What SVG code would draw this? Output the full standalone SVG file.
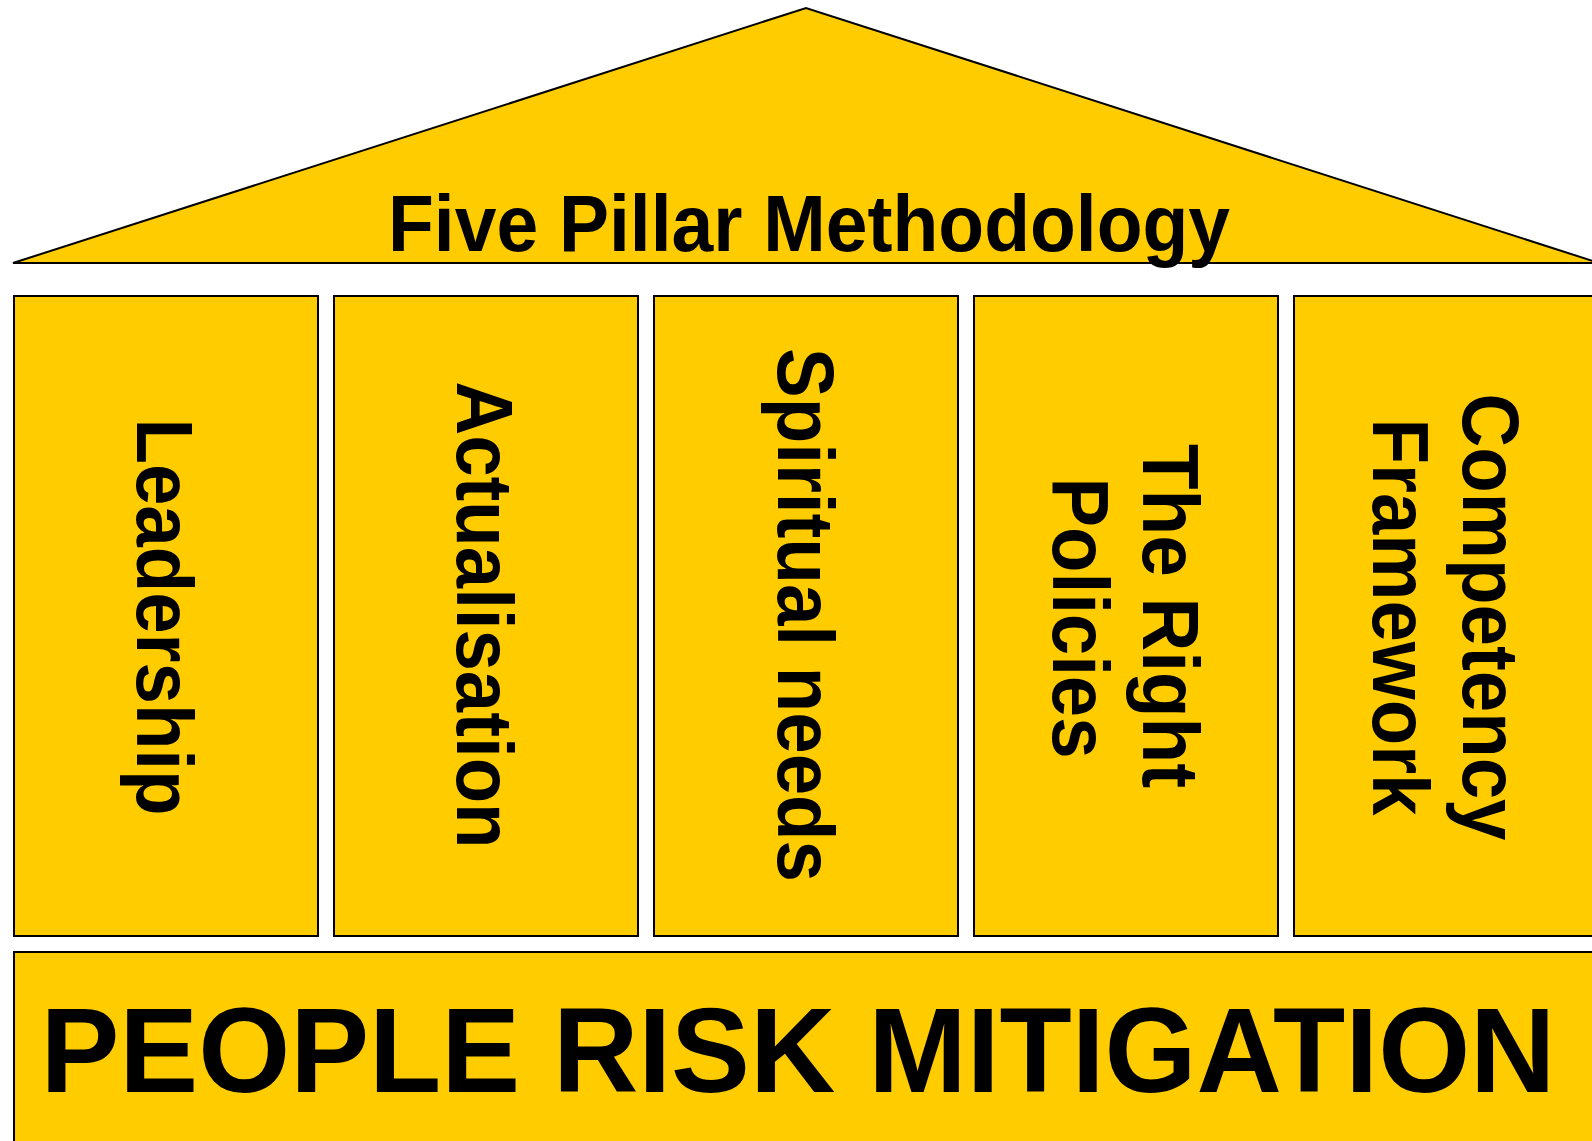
<svg xmlns="http://www.w3.org/2000/svg" width="1592" height="1141" viewBox="0 0 1592 1141">
<style>
.shape{fill:#FFCC00;stroke:#000;stroke-width:2}
.t{font-family:"Liberation Sans",Arial,Helvetica,sans-serif;font-weight:bold;fill:#000;text-anchor:middle}
.p{font-size:80px}
</style>
<rect width="1592" height="1141" fill="#fff"/>
<g id="roof">
<polygon class="shape" points="13,263 806,8 1599,263"/>
<text class="t p" x="809" y="251" textLength="842" lengthAdjust="spacingAndGlyphs">Five Pillar Methodology</text>
</g>
<g id="pillar1">
<rect class="shape" x="14" y="296" width="304" height="640"/>
<text class="t p" transform="translate(166,617) rotate(90)" x="0" y="29" textLength="397" lengthAdjust="spacingAndGlyphs">Leadership</text>
</g>
<g id="pillar2">
<rect class="shape" x="334" y="296" width="304" height="640"/>
<text class="t p" transform="translate(486,615) rotate(90)" x="0" y="29" textLength="467" lengthAdjust="spacingAndGlyphs">Actualisation</text>
</g>
<g id="pillar3">
<rect class="shape" x="654" y="296" width="304" height="640"/>
<text class="t p" transform="translate(806,615) rotate(90)" x="0" y="28" textLength="534" lengthAdjust="spacingAndGlyphs">Spiritual needs</text>
</g>
<g id="pillar4">
<rect class="shape" x="974" y="296" width="304" height="640"/>
<text class="t p" transform="translate(1126,616) rotate(90)" x="0" y="-17" textLength="344" lengthAdjust="spacingAndGlyphs">The Right</text>
<text class="t p" transform="translate(1126,618) rotate(90)" x="0" y="73" textLength="281" lengthAdjust="spacingAndGlyphs">Policies</text>
</g>
<g id="pillar5">
<rect class="shape" x="1294" y="296" width="304" height="640"/>
<text class="t p" transform="translate(1446,617) rotate(90)" x="0" y="-17" textLength="447" lengthAdjust="spacingAndGlyphs">Competency</text>
<text class="t p" transform="translate(1446,617) rotate(90)" x="0" y="73" textLength="397" lengthAdjust="spacingAndGlyphs">Framework</text>
</g>
<g id="base">
<rect class="shape" x="14" y="952" width="1600" height="200"/>
<text class="t" style="font-size:120px" x="798" y="1092" textLength="1515" lengthAdjust="spacingAndGlyphs">PEOPLE RISK MITIGATION</text>
</g>
<g id="connectors"></g>
</svg>
